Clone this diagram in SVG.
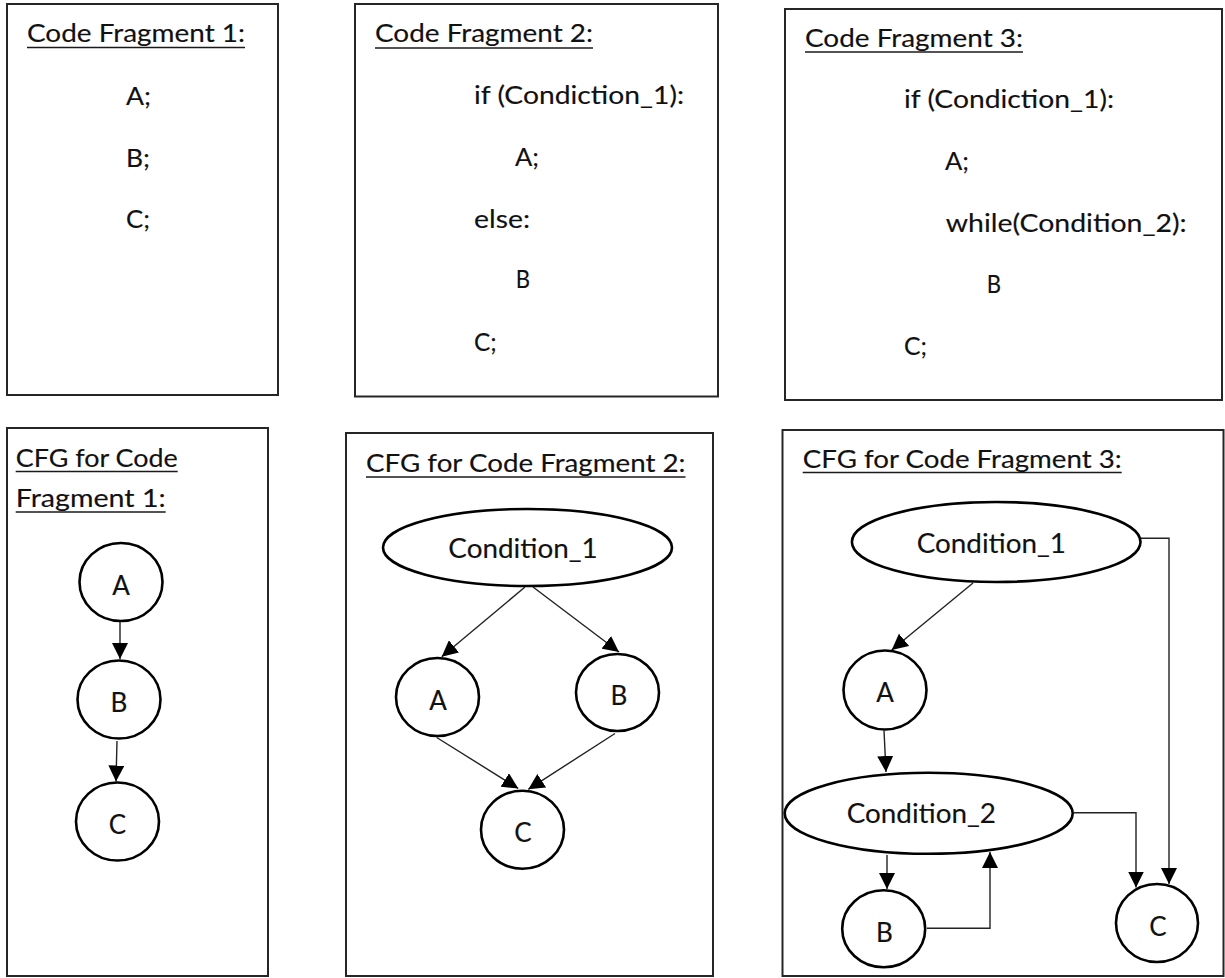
<svg xmlns="http://www.w3.org/2000/svg" width="1225" height="978" viewBox="0 0 1225 978">
  <style>
    .frame { fill: none; stroke: #262626; stroke-width: 2; }
    .node { fill: #ffffff; stroke: #000000; stroke-width: 2.6; }
    .edge { fill: none; stroke: #222222; stroke-width: 1.4; marker-end: url(#arrow); }
    .uline { stroke: #1a1a1a; stroke-width: 1.6; }
    text { font-family: Lato, "Open Sans", "Liberation Sans", sans-serif; fill: #111111; stroke: #111111; stroke-width: 0.15; }
    .t { font-size: 25px; }
    .lbl { font-size: 26px; text-anchor: middle; }
    .cond { font-size: 27px; }
  </style>
  <defs>
    <marker id="arrow" markerUnits="userSpaceOnUse" viewBox="0 0 16 16" markerWidth="16" markerHeight="16" refX="16" refY="8" orient="auto">
      <path d="M0,0 L16,8 L0,16 Z" fill="#000000"/>
    </marker>
  </defs>

  <rect width="1225" height="978" fill="#ffffff"/>

  <!-- Code fragment 1 -->
  <g id="code1">
    <rect class="frame" x="7" y="4" width="271" height="391"/>
    <text class="t" x="27" y="42" textLength="218" lengthAdjust="spacingAndGlyphs">Code Fragment 1:</text>
    <line class="uline" x1="27" y1="47.5" x2="245" y2="47.5"/>
    <text class="t" x="126" y="105" textLength="25" lengthAdjust="spacingAndGlyphs">A;</text>
    <text class="t" x="126" y="167" textLength="24" lengthAdjust="spacingAndGlyphs">B;</text>
    <text class="t" x="126" y="228" textLength="24" lengthAdjust="spacingAndGlyphs">C;</text>
  </g>

  <!-- Code fragment 2 -->
  <g id="code2">
    <rect class="frame" x="355" y="4" width="363" height="392.5"/>
    <text class="t" x="375" y="42" textLength="218" lengthAdjust="spacingAndGlyphs">Code Fragment 2:</text>
    <line class="uline" x1="375" y1="48" x2="593" y2="48"/>
    <text class="t" x="474" y="104" textLength="210" lengthAdjust="spacingAndGlyphs">if (Condiction_1):</text>
    <text class="t" x="515" y="165.7" textLength="24" lengthAdjust="spacingAndGlyphs">A;</text>
    <text class="t" x="474" y="227.7" textLength="56" lengthAdjust="spacingAndGlyphs">else:</text>
    <text class="t" x="515.7" y="288.3" textLength="14.3" lengthAdjust="spacingAndGlyphs">B</text>
    <text class="t" x="474" y="351" textLength="22.7" lengthAdjust="spacingAndGlyphs">C;</text>
  </g>

  <!-- Code fragment 3 -->
  <g id="code3">
    <rect class="frame" x="785" y="9" width="437" height="391"/>
    <text class="t" x="805" y="46.7" textLength="218" lengthAdjust="spacingAndGlyphs">Code Fragment 3:</text>
    <line class="uline" x1="805" y1="52" x2="1023" y2="52"/>
    <text class="t" x="904" y="108.3" textLength="210" lengthAdjust="spacingAndGlyphs">if (Condiction_1):</text>
    <text class="t" x="945" y="170" textLength="24" lengthAdjust="spacingAndGlyphs">A;</text>
    <text class="t" x="945.7" y="231.7" textLength="241" lengthAdjust="spacingAndGlyphs">while(Condition_2):</text>
    <text class="t" x="986.7" y="293.3" textLength="14.3" lengthAdjust="spacingAndGlyphs">B</text>
    <text class="t" x="904" y="355" textLength="23" lengthAdjust="spacingAndGlyphs">C;</text>
  </g>

  <!-- CFG panels -->
  <g id="cfg1-panel">
    <rect class="frame" x="7" y="428" width="261" height="548"/>
    <text class="t" x="15.7" y="466.5" textLength="162" lengthAdjust="spacingAndGlyphs">CFG for Code</text>
    <line class="uline" x1="15.7" y1="471.5" x2="177.7" y2="471.5"/>
    <text class="t" x="15.7" y="506.5" textLength="150" lengthAdjust="spacingAndGlyphs">Fragment 1:</text>
    <line class="uline" x1="15.7" y1="512" x2="165.7" y2="512"/>
  </g>
  <g id="cfg2-panel">
    <rect class="frame" x="346" y="433" width="367" height="543"/>
    <text class="t" x="366" y="472" textLength="319.5" lengthAdjust="spacingAndGlyphs">CFG for Code Fragment 2:</text>
    <line class="uline" x1="366" y1="477" x2="685.5" y2="477"/>
  </g>
  <g id="cfg3-panel">
    <rect class="frame" x="782.5" y="430" width="441" height="546"/>
    <text class="t" x="802.7" y="468.3" textLength="319" lengthAdjust="spacingAndGlyphs">CFG for Code Fragment 3:</text>
    <line class="uline" x1="802.7" y1="472.5" x2="1121.7" y2="472.5"/>
  </g>

  <!-- Connectors -->
  <g id="connectors">
    <!-- CFG 1 -->
    <path class="edge" d="M120,621 L120,659"/>
    <path class="edge" d="M117,741 L116,781.5"/>
    <!-- CFG 2 -->
    <path class="edge" d="M525,587 L441.7,656.7"/>
    <path class="edge" d="M533,587 L619,652"/>
    <path class="edge" d="M436.7,737.5 L518.3,788.5"/>
    <path class="edge" d="M615,733.5 L528.3,789.3"/>
    <!-- CFG 3 -->
    <path class="edge" d="M973,583 L891.7,650"/>
    <path class="edge" d="M1141,538.3 H1169 V884"/>
    <path class="edge" d="M884,730.5 L886,772"/>
    <path class="edge" d="M887,855 V889"/>
    <path class="edge" d="M927,928.3 H990 V852"/>
    <path class="edge" d="M1074,812.7 H1136 V887.5"/>
  </g>

  <!-- CFG 1 nodes -->
  <g id="cfg1-A">
    <ellipse class="node" cx="121" cy="582" rx="41.5" ry="39"/>
    <text class="lbl" x="121" y="594.5">A</text>
  </g>
  <g id="cfg1-B">
    <ellipse class="node" cx="119" cy="699.5" rx="41.5" ry="39"/>
    <text class="lbl" x="119" y="712">B</text>
  </g>
  <g id="cfg1-C">
    <ellipse class="node" cx="117.5" cy="821.5" rx="41.5" ry="39"/>
    <text class="lbl" x="117.5" y="834">C</text>
  </g>

  <!-- CFG 2 nodes -->
  <g id="cfg2-cond1">
    <ellipse class="node" cx="527.5" cy="547.5" rx="144.5" ry="38.5"/>
    <text class="cond" x="448.3" y="558.3" textLength="149.4" lengthAdjust="spacingAndGlyphs">Condition_1</text>
  </g>
  <g id="cfg2-A">
    <ellipse class="node" cx="437.5" cy="697" rx="41.5" ry="39"/>
    <text class="lbl" x="438" y="709.5">A</text>
  </g>
  <g id="cfg2-B">
    <ellipse class="node" cx="617.5" cy="692.5" rx="41.5" ry="38.5"/>
    <text class="lbl" x="619" y="705">B</text>
  </g>
  <g id="cfg2-C">
    <ellipse class="node" cx="522.5" cy="829.7" rx="41.5" ry="39"/>
    <text class="lbl" x="523" y="842">C</text>
  </g>

  <!-- CFG 3 nodes -->
  <g id="cfg3-cond1">
    <ellipse class="node" cx="996.2" cy="542" rx="144.3" ry="40"/>
    <text class="cond" x="916.7" y="552.7" textLength="149.3" lengthAdjust="spacingAndGlyphs">Condition_1</text>
  </g>
  <g id="cfg3-A">
    <ellipse class="node" cx="885" cy="690" rx="41.5" ry="39.5"/>
    <text class="lbl" x="885" y="702">A</text>
  </g>
  <g id="cfg3-cond2">
    <ellipse class="node" cx="928.7" cy="813.3" rx="144" ry="40.5"/>
    <text class="cond" x="846.7" y="823.3" textLength="149.3" lengthAdjust="spacingAndGlyphs">Condition_2</text>
  </g>
  <g id="cfg3-B">
    <ellipse class="node" cx="883.7" cy="928.8" rx="41.5" ry="38.5"/>
    <text class="lbl" x="884.3" y="942">B</text>
  </g>
  <g id="cfg3-C">
    <ellipse class="node" cx="1157" cy="923" rx="41" ry="39"/>
    <text class="lbl" x="1158" y="935.5">C</text>
  </g>
</svg>
